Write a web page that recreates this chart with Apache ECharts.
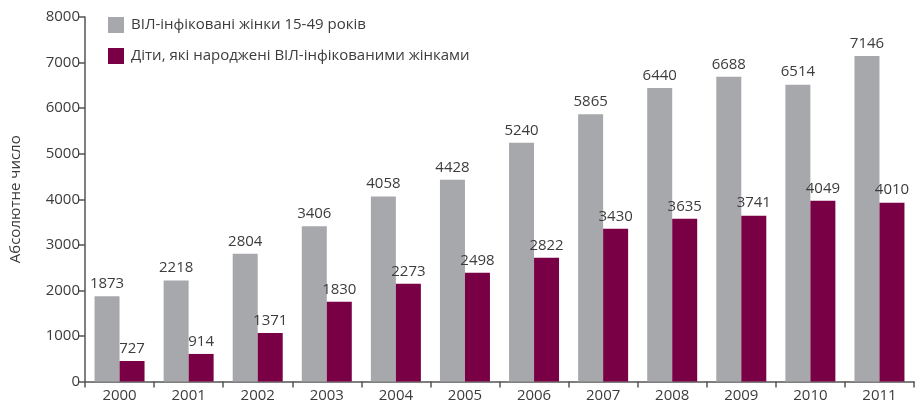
<!DOCTYPE html>
<html><head><meta charset="utf-8">
<script src="https://cdn.jsdelivr.net/npm/echarts@6/dist/echarts.min.js"></script>
<style>html,body{margin:0;padding:0;background:#fff}#c{width:918px;height:409px}</style>
</head><body><div id="c"></div>
<script>
const years = ['2000','2001','2002','2003','2004','2005','2006','2007','2008','2009','2010','2011'];
const seriesNames = ['ВІЛ-інфіковані жінки 15-49 років','Діти, які народжені ВІЛ-інфікованими жінками'];
const women = [1873,2218,2804,3406,4058,4428,5240,5865,6440,6688,6514,7146];
// bar heights of the second series as drawn in the picture
const childrenBars = [450,605,1065,1750,2145,2385,2715,3350,3570,3640,3965,3925];
// value labels printed above the second series
const childrenLabels = [727,914,1371,1830,2273,2498,2822,3430,3635,3741,4049,4010];
const yTicks = [0,1000,2000,3000,4000,5000,6000,7000,8000];

const FONT = '"Open Sans", "Noto Sans", sans-serif';
const TXT = '#3c3c3c';
const FS = 15;
const chart = echarts.init(document.getElementById('c'));
chart.setOption({
  animation:false,
  textStyle:{fontFamily:FONT},
  grid:{left:81,right:4,top:17,bottom:27.5},
  legend:{
    orient:'vertical', left:108, top:17, padding:0, itemWidth:16, itemHeight:16, itemGap:15,
    icon:'rect', data:seriesNames,
    textStyle:{fontFamily:FONT,fontSize:FS,color:TXT,padding:[0,0,0,2]}
  },
  xAxis:{
    type:'category', data:years,
    axisLine:{lineStyle:{color:'#555',width:1.5}},
    axisTick:{show:true,length:6,lineStyle:{color:'#555',width:1.5}},
    axisLabel:{fontFamily:FONT,fontSize:FS,color:TXT,margin:7}
  },
  yAxis:{
    type:'value', min:yTicks[0], max:yTicks[yTicks.length-1], interval:1000,
    name:'Абсолютне число', nameLocation:'middle', nameGap:62,
    nameTextStyle:{fontFamily:FONT,fontSize:FS,color:TXT},
    axisLine:{show:true,lineStyle:{color:'#555',width:1.5}},
    axisTick:{show:true,length:6,lineStyle:{color:'#555',width:1.5}},
    splitLine:{show:false},
    axisLabel:{fontFamily:FONT,fontSize:FS,color:TXT,margin:5,formatter:v=>String(v)}
  },
  series:[
    {name:seriesNames[0],type:'bar',data:women,barWidth:25,barGap:'0%',
     itemStyle:{color:'#a7a8ab'},
     label:{show:true,position:'top',distance:5,fontFamily:FONT,fontSize:FS,color:TXT}},
    {name:seriesNames[1],type:'bar',data:childrenBars,barWidth:25,barGap:'0%',
     itemStyle:{color:'#7a0045'},
     label:{show:true,position:'top',distance:5,fontFamily:FONT,fontSize:FS,color:TXT,
       formatter:p=>String(childrenLabels[p.dataIndex])}}
  ]
});
</script></body></html>
